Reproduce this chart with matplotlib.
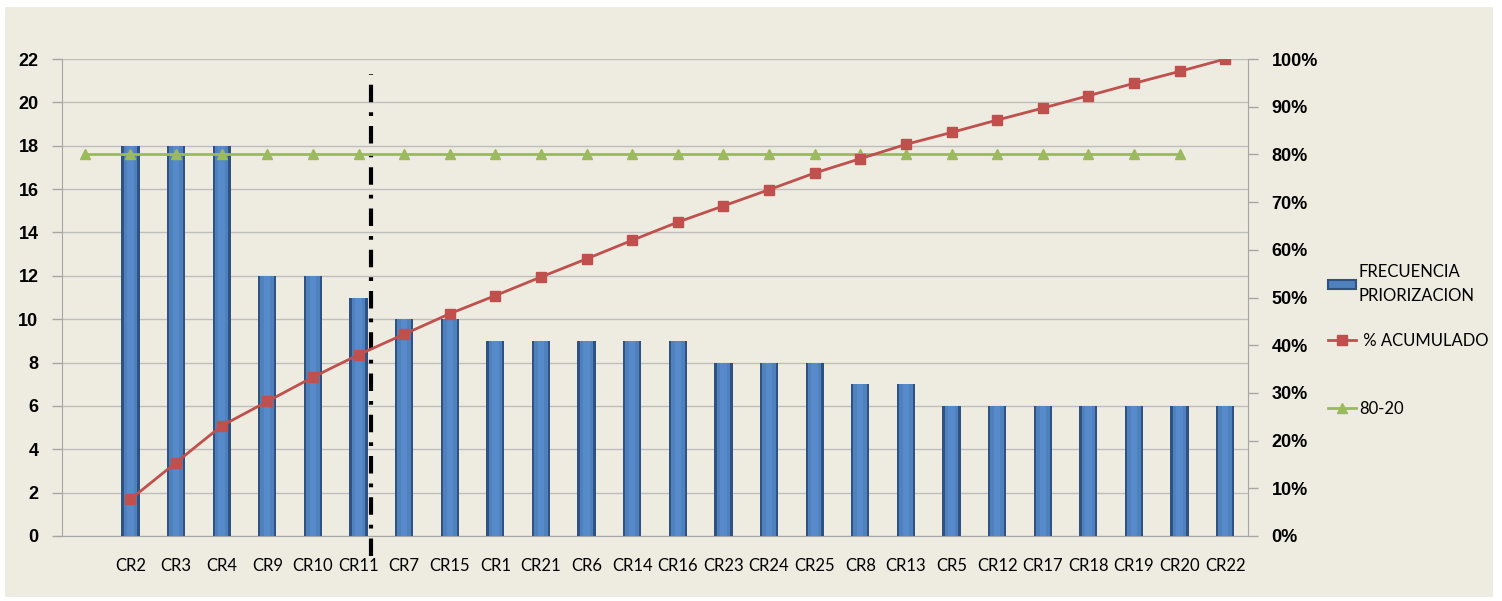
import matplotlib
matplotlib.use("Agg")
from matplotlib import pyplot as plt
from matplotlib.patches import Patch, Rectangle
from matplotlib.lines import Line2D
import numpy as np

plt.rcParams['font.family'] = ['Lato', 'DejaVu Sans']

# data
categories = ["CR2", "CR3", "CR4", "CR9", "CR10", "CR11", "CR7", "CR15", "CR1",
              "CR21", "CR6", "CR14", "CR16", "CR23", "CR24", "CR25", "CR8", "CR13",
              "CR5", "CR12", "CR17", "CR18", "CR19", "CR20", "CR22"]
frecuencia = [18, 18, 18, 12, 12, 11, 10, 10, 9, 9, 9, 9, 9, 8, 8, 8, 7, 7,
              6, 6, 6, 6, 6, 6, 6]
acumulado = [7.7, 15.4, 23.1, 28.2, 33.3, 38.0, 42.3, 46.6, 50.4, 54.3, 58.1,
             62.0, 65.8, 69.2, 72.6, 76.1, 79.1, 82.1, 84.6, 87.2, 89.7, 92.3,
             94.9, 97.4, 100.0]
linea_80_20 = [80] * 25          # starts one slot before CR2, ends at CR20
corte_x = 6.28                    # dash-dot cut line, just right of CR11

BG = '#EEEBE0'
BLUE = '#4F81BD'
RED = '#C0504D'
GREEN = '#9BBB59'
GRID = '#BEBEBE'
TICKFONT = dict(family=['Liberation Sans', 'DejaVu Sans'], weight='bold', size=13)

fig = plt.figure(figsize=(15.02, 6.01), dpi=100)
fig.patch.set_facecolor('white')
fig.add_artist(Rectangle((5 / 1502, 4 / 601), 1488 / 1502, 590 / 601,
                         transform=fig.transFigure, facecolor=BG,
                         edgecolor='none', zorder=-10))

ax = fig.add_axes([62 / 1502, 65 / 601, 1186 / 1502, 477 / 601])
ax.set_facecolor('none')
ax2 = ax.twinx()

x_bar = np.arange(1, len(categories) + 1)
x_80 = np.arange(0, len(linea_80_20))

# bars with a dark rim to mimic the cylinder look
ax.bar(x_bar, frecuencia, width=0.4, color='#2F5283', zorder=3)
ax.bar(x_bar, frecuencia, width=0.3, color=BLUE, zorder=4)
ax.bar(x_bar, frecuencia, width=0.14, color='#568ACB', zorder=4)

ax.set_xlim(-0.5, 25.5)
ax.set_ylim(0, 22)
ax.set_yticks(range(0, 23, 2))
ax.set_yticklabels([str(v) for v in range(0, 23, 2)], fontdict=TICKFONT)
ax.set_xticks(x_bar)
ax.set_xticklabels(categories, fontsize=12)
ax.tick_params(axis='x', length=0, pad=16)
ax.tick_params(axis='y', length=7, width=1, color='#A6A6A6', pad=10)
ax.yaxis.grid(True, color=GRID, lw=1, zorder=0)
ax.set_axisbelow(True)
for s in ['top', 'right']:
    ax.spines[s].set_visible(False)
ax.spines['left'].set_color('#A6A6A6')
ax.spines['bottom'].set_color('#A6A6A6')
ax.spines['bottom'].set_bounds(-0.66, 25.5)

ax.plot([corte_x, corte_x], [-0.9, 21.3], color='black', lw=3,
        linestyle=(0, (4.2, 2.4, 0.9, 2.4)), clip_on=False, zorder=6)

ax2.plot(x_80, linea_80_20, color=GREEN, lw=2, marker='^', markersize=7,
         zorder=5)
ax2.plot(x_bar, acumulado, color=RED, lw=2, marker='s', markersize=7,
         zorder=6)
ax2.set_ylim(0, 100)
ax2.set_yticks(range(0, 101, 10))
ax2.set_yticklabels([f"{v}%" for v in range(0, 101, 10)], fontdict=TICKFONT)
ax2.tick_params(axis='y', length=7, width=1, color='#A6A6A6', pad=10)
for s in ['top', 'left', 'bottom']:
    ax2.spines[s].set_visible(False)
ax2.spines['right'].set_color('#A6A6A6')
ax2.set_zorder(ax.get_zorder() + 1)
ax2.patch.set_visible(False)

# one legend per entry so each sits where the reference puts it
entries = [
    (Patch(facecolor=BLUE, edgecolor='#2F5283', lw=1.5),
     "FRECUENCIA\nPRIORIZACION", 284, 0.45),
    (Line2D([], [], color=RED, lw=2, marker='s', markersize=7),
     " % ACUMULADO", 341, 0.7),
    (Line2D([], [], color=GREEN, lw=2, marker='^', markersize=7),
     "80-20", 409, 0.7),
]
for handle, label, ypix, hh in entries:
    leg = fig.legend([handle], [label], loc='center left',
                     bbox_to_anchor=(1328 / 1502, 1 - ypix / 601),
                     frameon=False, fontsize=12, handlelength=1.7,
                     handleheight=hh, handletextpad=0.15,
                     borderaxespad=0, borderpad=0)
    for t in leg.get_texts():
        t.set_linespacing(1.6)

fig.savefig("out.png", dpi=100, facecolor='white')
